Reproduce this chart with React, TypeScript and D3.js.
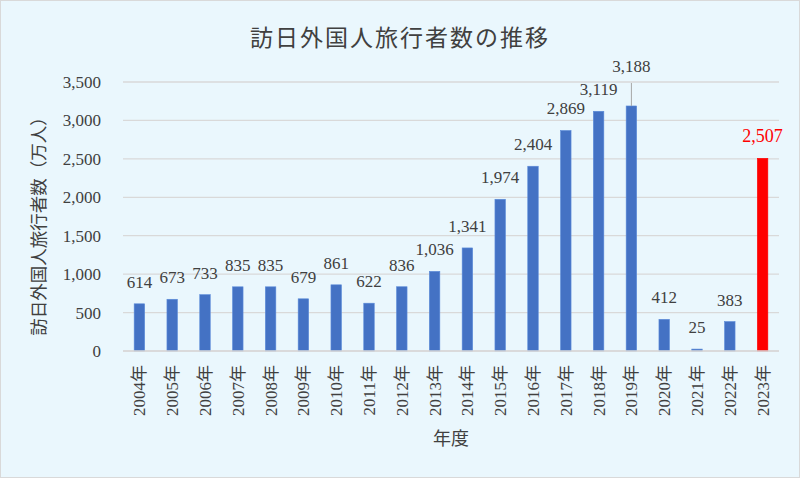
import React from "react";
import * as d3 from "d3";

const years = ["2004年","2005年","2006年","2007年","2008年","2009年","2010年","2011年","2012年","2013年","2014年","2015年","2016年","2017年","2018年","2019年","2020年","2021年","2022年","2023年"];
const visitors = [614,673,733,835,835,679,861,622,836,1036,1341,1974,2404,2869,3119,3188,412,25,383,2507];
const yTicks = [0,500,1000,1500,2000,2500,3000,3500];
const highlightYear = "2023年";

const W = 800, H = 478;
const margin = { left: 123, right: 21, top: 82, bottom: 127 };
const FONT = "'Liberation Serif', 'Times New Roman', 'Noto Sans CJK JP', serif";

export default function App() {
  const x = d3.scaleBand<string>().domain(years).range([margin.left, W - margin.right]).paddingInner(0.68).paddingOuter(0.34);
  const y = d3.scaleLinear().domain([0, 3500]).range([H - margin.bottom, margin.top]);
  const fmt = d3.format(",");
  const textColor = "#404040";
  return (
    <svg width={W} height={H} style={{ position: "absolute", left: 0, top: 0, display: "block" }}>
      <rect x={0.5} y={0.5} width={W - 1} height={H - 1} fill="#EAF7FD" stroke="#D9D9D9" />
      <text x={400} y={46} textAnchor="middle" fontSize={23} fill={textColor} fontFamily="'Noto Sans CJK JP', sans-serif" letterSpacing={2}>訪日外国人旅行者数の推移</text>
      {yTicks.map(t => (
        <g key={t}>
          <line x1={margin.left} x2={W - margin.right} y1={y(t)} y2={y(t)} stroke="#D9D9D9" strokeWidth={1.3} />
          <text x={101} y={y(t) + 6} textAnchor="end" fontSize={17} fill={textColor} fontFamily={FONT}>{fmt(t)}</text>
        </g>
      ))}
      {years.map((yr, i) => {
        const v = visitors[i];
        const bx = x(yr)!;
        const bw = x.bandwidth();
        const hl = yr === highlightYear;
        const cx = bx + bw / 2;
        let labelY = y(v) - 16;
        let leader = null;
        if (v === 3188) {
          labelY = y(v) - 34;
          leader = <line x1={cx} x2={cx} y1={y(v)} y2={y(v) - 23} stroke="#A6A6A6" strokeWidth={1} />;
        }
        return (
          <g key={yr}>
            <rect x={bx} y={y(v)} width={bw} height={y(0) - y(v)} fill={hl ? "#FF0000" : "#4472C4"} stroke={hl ? "#FF0000" : "#5B8BD9"} strokeWidth={0.6} />
            {leader}
            <text x={cx} y={labelY} textAnchor="middle" fontSize={hl ? 18 : 17} fill={hl ? "#FF0000" : textColor} fontFamily={FONT}>{fmt(v)}</text>
            <text transform={`translate(${cx + 6},${365}) rotate(-90)`} textAnchor="end" fontSize={17} fill={textColor} fontFamily={FONT}>{yr}</text>
          </g>
        );
      })}
      <line x1={margin.left} x2={W - margin.right} y1={y(0)} y2={y(0)} stroke="#D9D9D9" strokeWidth={1.3} />
      <text x={451} y={445} textAnchor="middle" fontSize={18} fill={textColor} fontFamily={FONT}>年度</text>
      <text transform={`translate(45,222) rotate(-90)`} textAnchor="middle" fontSize={17.5} fill={textColor} fontFamily={FONT}>訪日外国人旅行者数（万人）</text>
    </svg>
  );
}
